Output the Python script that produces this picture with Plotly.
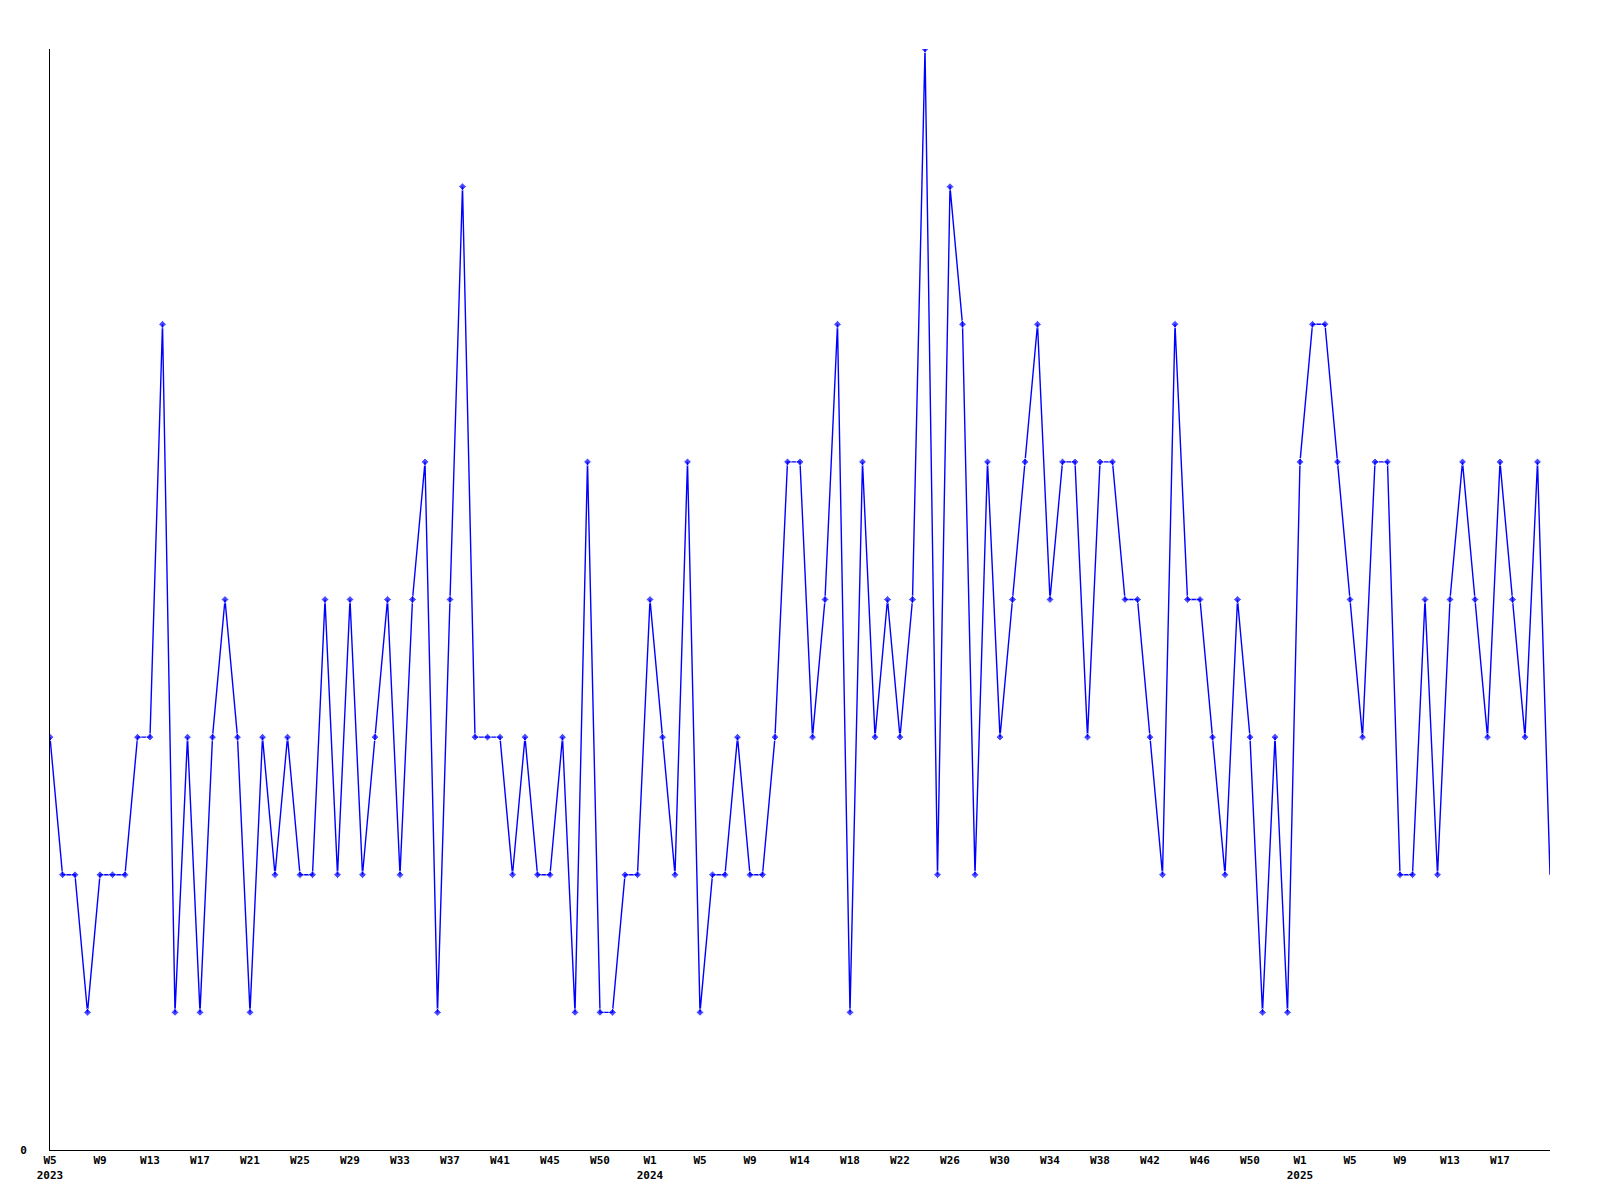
import plotly.graph_objects as go

values = [3, 2, 2, 1, 2, 2, 2, 3, 3, 6,
          1, 3, 1, 3, 4, 3, 1, 3, 2, 3,
          2, 2, 4, 2, 4, 2, 3, 4, 2, 4,
          5, 1, 4, 7, 3, 3, 3, 2, 3, 2,
          2, 3, 1, 5, 1, 1, 2, 2, 4, 3,
          2, 5, 1, 2, 2, 3, 2, 2, 3, 5,
          5, 3, 4, 6, 1, 5, 3, 4, 3, 4,
          8, 2, 7, 6, 2, 5, 3, 4, 5, 6,
          4, 5, 5, 3, 5, 5, 4, 4, 3, 2,
          6, 4, 4, 3, 2, 4, 3, 1, 3, 1,
          5, 6, 6, 5, 4, 3, 5, 5, 2, 2,
          4, 2, 4, 5, 4, 3, 5, 4, 3, 5,
          2]

tick_labels = ["W5<br>2023", "W9", "W13", "W17", "W21", "W25", "W29", "W33",
               "W37", "W41", "W45", "W50", "W1<br>2024", "W5", "W9", "W14",
               "W18", "W22", "W26", "W30", "W34", "W38", "W42", "W46", "W50",
               "W1<br>2025", "W5", "W9", "W13", "W17"]

x = list(range(len(values)))
tick_vals = [i * 4 for i in range(len(tick_labels))]
marker_sizes = [6] * (len(values) - 1) + [0]

fig = go.Figure()
fig.add_trace(go.Scatter(
    x=x, y=values, mode="lines+markers",
    line=dict(color="#0000ff", width=1.4),
    marker=dict(symbol="diamond", size=marker_sizes, color="#0000ff"),
    showlegend=False,
))

font = dict(family="DejaVu Sans Mono", size=11, color="black", weight="bold")

fig.update_layout(
    width=1600, height=1200,
    margin=dict(l=42, r=58, t=41, b=58),
    paper_bgcolor="white", plot_bgcolor="white",
    xaxis=dict(range=[0, 120], tickvals=tick_vals, ticktext=tick_labels,
               showgrid=False, zeroline=False, showline=True,
               linecolor="black", linewidth=1, ticks="",
               tickfont=font, tickangle=0),
    yaxis=dict(range=[0, 8], tickvals=[0], ticktext=["0"],
               showgrid=False, zeroline=False, showline=True,
               linecolor="black", linewidth=1, ticks="",
               tickfont=font, ticklabelstandoff=20),
)

fig.write_html("out.html")
